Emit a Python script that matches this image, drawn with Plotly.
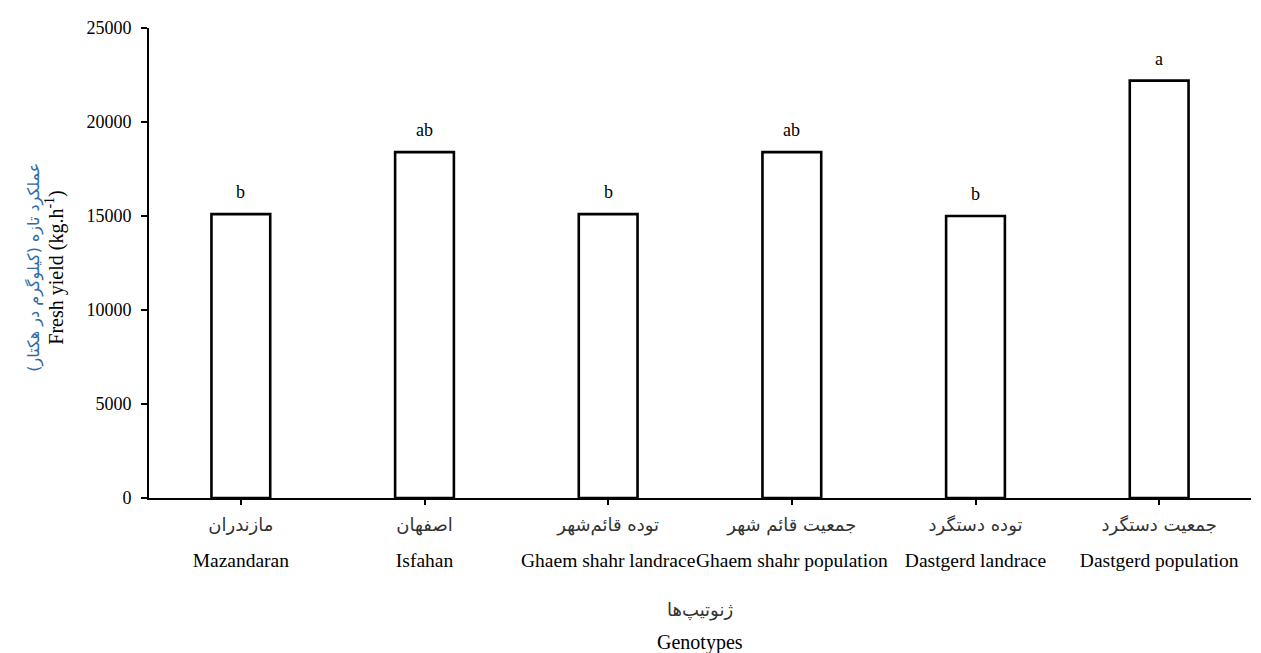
import plotly.graph_objects as go

genotypes_en = ["Mazandaran", "Isfahan", "Ghaem shahr landrace", "Ghaem shahr population",
                "Dastgerd landrace", "Dastgerd population"]
genotypes_fa = ["مازندران", "اصفهان", "توده قائم‌شهر", "جمعیت قائم شهر", "توده دستگرد", "جمعیت دستگرد"]
fresh_yield = [15100, 18400, 15100, 18400, 15000, 22200]
letters = ["b", "ab", "b", "ab", "b", "a"]
y_ticks = [0, 5000, 10000, 15000, 20000, 25000]

SERIF = "Liberation Serif, Times New Roman, serif"
FA_FONT = "DejaVu Sans, Noto Sans, sans-serif"
EN_SIZE = 20
TICK_EN_SIZE = 19.5
FA_SIZE = 18

ticktext = [f"<span style='font-family:{FA_FONT};font-size:{FA_SIZE}px;color:#333'>{fa}</span><br>"
            f"<span style='font-size:{TICK_EN_SIZE}px'>{en}</span>"
            for fa, en in zip(genotypes_fa, genotypes_en)]

fig = go.Figure()
fig.add_trace(go.Bar(
    x=genotypes_en, y=fresh_yield,
    marker=dict(color="white", line=dict(color="black", width=2.6)),
    width=0.32, showlegend=False, hoverinfo="x+y",
))

for g, v, l in zip(genotypes_en, fresh_yield, letters):
    fig.add_annotation(x=g, y=v, text=l, showarrow=False, yanchor="bottom", yshift=10,
                       font=dict(family=SERIF, size=18, color="black"))

# y-axis title (two lines)
fig.add_annotation(xref="paper", yref="paper", x=0, y=0.49, xshift=-115, textangle=-90,
                   xanchor="center", yanchor="middle",
                   text="عملکرد تازه (کیلوگرم در هکتار)", showarrow=False,
                   font=dict(family=FA_FONT, size=16, color="#2e6aa8"))
fig.add_annotation(xref="paper", yref="paper", x=0, y=0.49, xshift=-94, textangle=-90,
                   xanchor="center", yanchor="middle",
                   text="Fresh yield (kg.h<sup>-1</sup>)", showarrow=False,
                   font=dict(family=SERIF, size=EN_SIZE, color="black"))
# x-axis title (two lines)
fig.add_annotation(xref="paper", yref="paper", x=0.5, y=-0.238, text="ژنوتیپ‌ها",
                   xanchor="center", yanchor="middle",
                   showarrow=False, font=dict(family=FA_FONT, size=FA_SIZE, color="#333"))
fig.add_annotation(xref="paper", yref="paper", x=0.5, y=-0.308, text="Genotypes",
                   xanchor="center", yanchor="middle",
                   showarrow=False, font=dict(family=SERIF, size=EN_SIZE, color="black"))

fig.update_layout(
    width=1253, height=645,
    margin=dict(l=141, r=10, t=16, b=155),
    plot_bgcolor="white", paper_bgcolor="white",
    font=dict(family=SERIF, color="black"),
)
fig.update_xaxes(
    tickmode="array", tickvals=genotypes_en, ticktext=ticktext,
    tickfont=dict(family=SERIF, size=28, color="black"),
    showline=True, linecolor="black", linewidth=2,
    ticks="outside", ticklen=5, tickwidth=2, tickcolor="black",
    showgrid=False, tickangle=0, ticklabelstandoff=-8,
)
fig.update_yaxes(
    range=[0, 25000], tickvals=y_ticks, ticktext=[str(t) for t in y_ticks],
    tickfont=dict(family=SERIF, size=18, color="black"),
    showline=True, linecolor="black", linewidth=2,
    ticks="outside", ticklen=6, tickwidth=2, tickcolor="black",
    showgrid=False, zeroline=False, ticklabelstandoff=6,
)

fig.write_html("out.html")
